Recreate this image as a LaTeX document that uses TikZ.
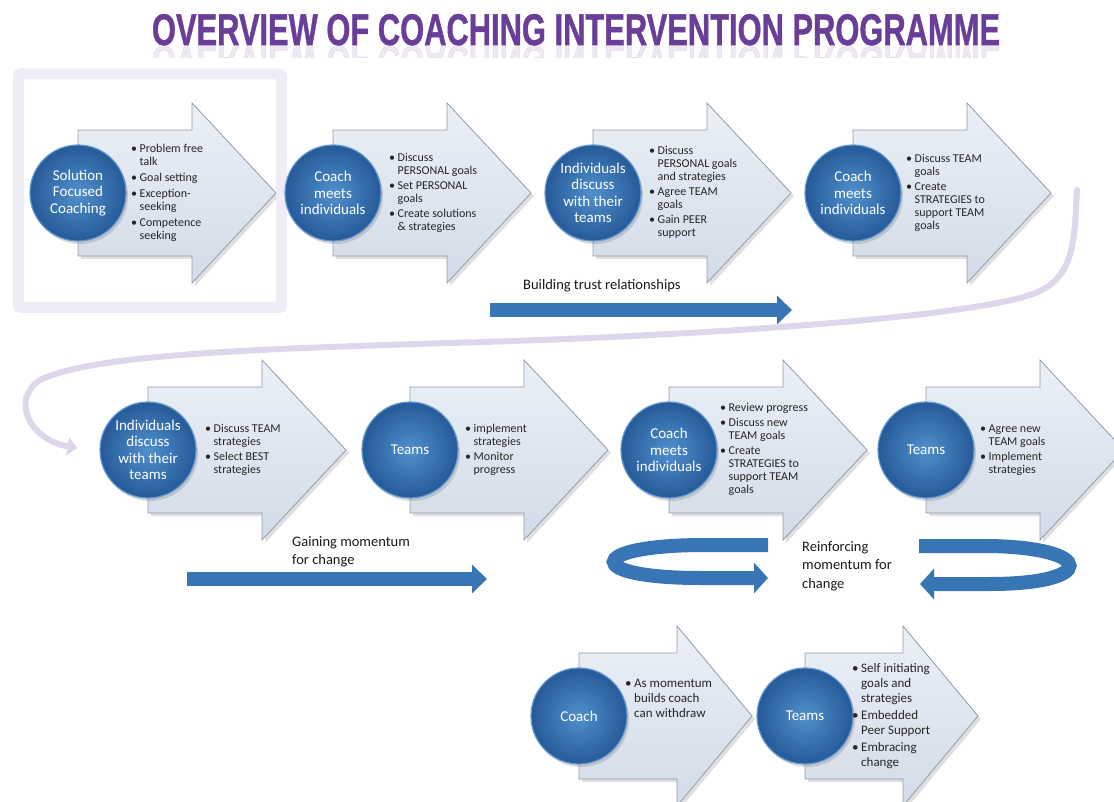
\documentclass[tikz,border=0pt]{standalone}
\usepackage{fontspec}
\setmainfont{Carlito}
\newfontfamily\headfont[FakeBold=1.2]{Liberation Sans}
\usetikzlibrary{positioning, calc, backgrounds, shadows, arrows.meta, fadings}

\definecolor{ballcore}{RGB}{80,144,205}
\definecolor{balledge}{RGB}{38,90,152}
\definecolor{ballrim}{RGB}{98,152,206}
\definecolor{platetop}{RGB}{235,240,247}
\definecolor{platebot}{RGB}{210,219,232}
\definecolor{plateline}{RGB}{146,156,172}
\definecolor{barblue}{RGB}{56,117,180}
\definecolor{headpurple}{RGB}{106,62,152}
\definecolor{lilac}{RGB}{222,215,236}
\definecolor{framelilac}{RGB}{239,236,246}

% bullet list: first column bullet, second the wrapped text
\newcommand\points[1]{\begin{tabular}{@{}l@{\hspace{2.5pt}}l@{}}#1\end{tabular}}
\newcommand\bul{\textbullet}

% the big chevron behind a circle: #1 circle, #2 where the head starts, #3 tip
\newcommand\chevron[3]{%
  \path[plate] ($(#1)+(0,-63)$) -- ($(#1)+(#2,-63)$) -- ($(#1)+(#2,-90)$)
    -- ($(#1)+(#3,0)$) -- ($(#1)+(#2,90)$) -- ($(#1)+(#2,63)$)
    -- ($(#1)+(0,63)$) -- cycle;}

\newcommand\headline{OVERVIEW OF COACHING INTERVENTION PROGRAMME}

\begin{document}
\begin{tikzpicture}[x=1pt, y=-1pt, node distance=258pt, on grid,
    hub/.style={circle, minimum size=96pt, inner sep=0pt, align=center, text=white,
      font=\fontsize{15}{16.5}\selectfont, inner color=ballcore, outer color=balledge,
      draw=ballrim, line width=1.2pt,
      drop shadow={opacity=.3, shadow xshift=2pt, shadow yshift=-3pt}},
    plate/.style={top color=platetop, bottom color=platebot, draw=plateline,
      line width=.8pt, drop shadow={opacity=.25, shadow xshift=3pt, shadow yshift=-3pt}},
    notes/.style={anchor=west, inner sep=0pt, font=\fontsize{12}{13}\selectfont, text=black!85},
    bignotes/.style={notes, font=\fontsize{13}{15}\selectfont},
    caption/.style={anchor=west, inner sep=0pt, align=left, text=black!90,
      font=\fontsize{14.5}{18.5}\selectfont},
    bar/.style={draw=barblue, line width=14pt, -{Triangle[length=15pt, width=28pt]}},
    swirl/.style={draw=barblue, line width=14pt, -{Triangle[length=14pt, width=30pt]}},
    tube/.style={draw=lilac, line width=6pt, line cap=round, -{Triangle[length=10pt, width=18pt]}},
    heading/.style={inner sep=0pt, text=headpurple}]
  \useasboundingbox (0,0) rectangle (1114,802);

  % title and its faded mirror image
  \node[heading, anchor=base] (head) at (576,45)
    {\resizebox{848pt}{31pt}{\headfont\bfseries\headline}};
  \begin{scope}[path fading=south]
    \clip (100,45) rectangle (1060,58);
    \node[heading, anchor=north, opacity=.12] (mirror) at (576,45)
      {\scalebox{1}[-1]{\resizebox{848pt}{31pt}{\headfont\bfseries\headline}}};
  \end{scope}

  % frame round the first stage
  \draw[framelilac, line width=11pt, rounded corners=2pt] (18.5,74) rectangle (281.5,307.5);

  % circles
  \node[hub] (c1) at (78,193) {Solution\\Focused\\Coaching};
  \node[hub] (c2) [right=255pt of c1] {Coach\\meets\\individuals};
  \node[hub] (c3) [right=260pt of c2] {Individuals\\discuss\\with their\\teams};
  \node[hub] (c4) [right=260pt of c3] {Coach\\meets\\individuals};
  \node[hub] (c5) at (148,450) {Individuals\\discuss\\with their\\teams};
  \node[hub] (c6) [right=262pt of c5] {Teams};
  \node[hub] (c7) [right=259pt of c6] {Coach\\meets\\individuals};
  \node[hub] (c8) [right=257pt of c7] {Teams};
  \node[hub] (c9) at (579,716) {Coach};
  \node[hub] (c10) [right=226pt of c9] {Teams};

  \begin{scope}[on background layer]
    \foreach \i in {1,...,8} {\chevron{c\i}{114}{198}}
    \foreach \i in {9,10} {\chevron{c\i}{98}{173}}
  \end{scope}

  % what happens at each stage
  \node[notes] (n1) at ($(c1)+(53,0)$) {\points{\bul & Problem free\\ & talk\\[3pt]
    \bul & Goal setting\\[3pt] \bul & Exception-\\ & seeking\\[3pt] \bul & Competence\\ & seeking}};
  \node[notes] (n2) at ($(c2)+(56,0)$) {\points{\bul & Discuss\\ & PERSONAL goals\\[2pt]
    \bul & Set PERSONAL\\ & goals\\[2pt] \bul & Create solutions\\ & \& strategies}};
  \node[notes] (n3) at ($(c3)+(56,0)$) {\points{\bul & Discuss\\ & PERSONAL goals\\ & and strategies\\[2pt]
    \bul & Agree TEAM\\ & goals\\[2pt] \bul & Gain PEER\\ & support}};
  \node[notes] (n4) at ($(c4)+(53,0)$) {\points{\bul & Discuss TEAM\\ & goals\\[2pt]
    \bul & Create\\ & STRATEGIES to\\ & support TEAM\\ & goals}};
  \node[notes] (n5) at ($(c5)+(57,0)$) {\points{\bul & Discuss TEAM\\ & strategies\\[2pt]
    \bul & Select BEST\\ & strategies}};
  \node[notes] (n6) at ($(c6)+(55,0)$) {\points{\bul & implement\\ & strategies\\[2pt]
    \bul & Monitor\\ & progress}};
  \node[notes] (n7) at ($(c7)+(51,0)$) {\points{\bul & Review progress\\[2pt]
    \bul & Discuss new\\ & TEAM goals\\[2pt] \bul & Create\\ & STRATEGIES to\\ & support TEAM\\ & goals}};
  \node[notes] (n8) at ($(c8)+(54,0)$) {\points{\bul & Agree new\\ & TEAM goals\\[2pt]
    \bul & Implement\\ & strategies}};
  \node[bignotes] (n9) at ($(c9)+(46,-17)$) {\points{\bul & As momentum\\ & builds coach\\ & can withdraw}};
  \node[bignotes] (n10) at ($(c10)+(47,0)$) {\points{\bul & Self initiating\\ & goals and\\ & strategies\\[2pt]
    \bul & Embedded\\ & Peer Support\\[2pt] \bul & Embracing\\ & change}};

  % phases
  \node[caption] (trust) at (523,286) {Building trust relationships};
  \coordinate (trustL) at (490,310);
  \coordinate (trustR) at (792,310);
  \draw[bar] (trustL) -- (trustR);

  \node[caption] (gain) at (292,552) {Gaining momentum\\for change};
  \coordinate (gainL) at (187,579);
  \coordinate (gainR) at (487,579);
  \draw[bar] (gainL) -- (gainR);

  \node[caption] (reinforce) at (802,566) {Reinforcing\\momentum for\\change};
  \coordinate (swirlA) at (768,545);
  \coordinate (swirlB) at (768,578);
  \draw[swirl] (swirlA) -- (700,545) .. controls (585,546) and (585,578) .. (700,578) -- (swirlB);
  \coordinate (swirlC) at (919,546);
  \coordinate (swirlD) at (920,584);
  \draw[swirl] (swirlC) -- (990,546) .. controls (1096,548) and (1096,584) .. (990,584) -- (swirlD);

  % from the end of the first row back to the start of the second
  \coordinate (rowend) at ($(c4)+(224,-3)$);
  \coordinate (rowstart) at ($(c5.west)+(-22,-2)$);
  \draw[tube] (rowend) .. controls (1074,240) and (1076,280) .. (1030,295)
    .. controls (960,318) and (700,336) .. (450,343)
    .. controls (250,349) and (90,355) .. (40,380)
    .. controls (10,400) and (30,440) .. (rowstart);
\end{tikzpicture}
\end{document}
